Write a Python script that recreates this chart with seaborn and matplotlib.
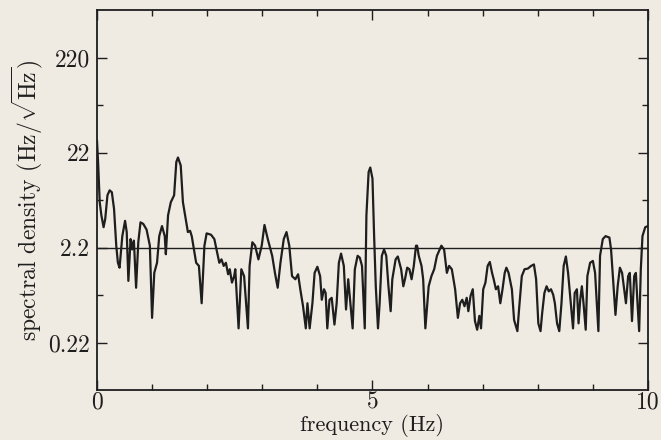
import numpy as np
import pandas as pd
import matplotlib
matplotlib.use("Agg")
import matplotlib.pyplot as plt
import seaborn as sns
from matplotlib.ticker import FixedLocator, FixedFormatter, NullFormatter

freq = [0.00, 0.02, 0.05, 0.08, 0.12, 0.15, 0.19, 0.23, 0.27, 0.31, 0.35, 0.38, 0.41, 0.46, 0.51, 0.54, 0.57,
        0.61, 0.64, 0.67, 0.71, 0.75, 0.79, 0.84, 0.90, 0.96, 1.00, 1.04, 1.09, 1.13, 1.18, 1.23, 1.25, 1.29,
        1.34, 1.40, 1.44, 1.47, 1.52, 1.56, 1.61, 1.65, 1.69, 1.72, 1.76, 1.80, 1.85, 1.90, 1.95, 1.99, 2.07,
        2.13, 2.18, 2.22, 2.26, 2.30, 2.34, 2.38, 2.41, 2.45, 2.49, 2.51, 2.57, 2.62, 2.67, 2.74, 2.77, 2.82,
        2.87, 2.93, 2.99, 3.04, 3.10, 3.18, 3.23, 3.28, 3.33, 3.39, 3.44, 3.49, 3.54, 3.60, 3.65, 3.69, 3.74,
        3.79, 3.82, 3.86, 3.91, 3.95, 4.00, 4.05, 4.08, 4.12, 4.15, 4.18, 4.22, 4.26, 4.31, 4.35, 4.39, 4.43,
        4.48, 4.52, 4.56, 4.60, 4.64, 4.68, 4.73, 4.77, 4.81, 4.86, 4.89, 4.93, 4.96, 5.00, 5.03, 5.06, 5.10,
        5.13, 5.17, 5.21, 5.25, 5.29, 5.33, 5.36, 5.42, 5.46, 5.52, 5.56, 5.59, 5.63, 5.67, 5.71, 5.75, 5.79,
        5.81, 5.84, 5.89, 5.92, 5.96, 6.02, 6.07, 6.12, 6.17, 6.25, 6.30, 6.35, 6.39, 6.44, 6.50, 6.55, 6.59,
        6.63, 6.67, 6.71, 6.74, 6.78, 6.82, 6.86, 6.90, 6.94, 6.97, 7.01, 7.05, 7.09, 7.13, 7.17, 7.20, 7.24,
        7.28, 7.32, 7.36, 7.40, 7.43, 7.47, 7.53, 7.57, 7.63, 7.66, 7.71, 7.76, 7.82, 7.88, 7.93, 7.97, 8.01,
        8.05, 8.08, 8.12, 8.16, 8.20, 8.24, 8.28, 8.31, 8.35, 8.39, 8.43, 8.47, 8.51, 8.55, 8.60, 8.64, 8.67,
        8.71, 8.74, 8.77, 8.80, 8.83, 8.87, 8.90, 8.95, 9.00, 9.04, 9.10, 9.13, 9.18, 9.23, 9.30, 9.33, 9.37,
        9.41, 9.45, 9.49, 9.53, 9.56, 9.60, 9.64, 9.67, 9.71, 9.75, 9.78, 9.81, 9.84, 9.87, 9.90, 9.95, 10.00]

density = [29.7, 17.5, 6.6, 4.8, 3.6, 4.4, 7.8, 8.8, 8.4, 5.6, 2.3, 1.52, 1.35, 2.9, 4.2, 3.2, 0.98,
           2.7, 2.1, 2.6, 0.83, 2.5, 4.05, 3.9, 3.4, 2.3, 0.40, 1.19, 1.52, 2.9, 3.7, 2.9, 1.87, 4.8,
           6.6, 7.8, 17.5, 19.5, 16.1, 6.6, 4.4, 3.2, 3.3, 2.9, 2.1, 1.52, 1.41, 0.57, 2.3, 3.1, 3.0,
           2.7, 1.95, 1.52, 1.65, 1.41, 1.52, 1.15, 1.30, 0.94, 1.10, 1.30, 0.31, 1.30, 1.10, 0.31, 1.41, 2.5,
           2.3, 1.65, 2.3, 3.8, 2.7, 1.8, 1.19, 0.83, 1.52, 2.7, 3.2, 2.3, 1.10, 1.02, 1.15, 0.80, 0.53,
           0.31, 0.57, 0.31, 0.57, 1.19, 1.38, 1.10, 0.62, 0.80, 0.73, 0.31, 0.62, 0.65, 0.34, 0.57, 1.52, 1.9,
           1.41, 0.49, 1.02, 0.57, 0.31, 1.30, 1.8, 1.72, 1.41, 0.31, 4.8, 13.7, 15.3, 11.7, 2.9, 0.86, 0.31,
           0.57, 1.8, 2.1, 1.8, 0.86, 0.47, 1.02, 1.65, 1.77, 1.30, 0.86, 1.02, 1.35, 1.30, 1.02, 1.41, 2.3,
           2.3, 1.8, 1.41, 1.02, 0.31, 0.86, 1.10, 1.30, 1.8, 2.3, 2.1, 1.19, 1.41, 1.30, 0.80, 0.40, 0.57,
           0.62, 0.53, 0.65, 0.47, 0.68, 0.80, 0.37, 0.30, 0.42, 0.31, 0.80, 0.94, 1.41, 1.55, 1.19, 1.02, 0.80,
           0.86, 0.57, 0.80, 1.19, 1.35, 1.19, 0.80, 0.38, 0.29, 0.49, 1.10, 1.30, 1.32, 1.41, 1.46, 1.02, 0.35,
           0.29, 0.45, 0.73, 0.86, 0.76, 0.80, 0.70, 0.57, 0.35, 0.29, 0.57, 1.41, 1.77, 1.19, 0.57, 0.31, 0.73,
           0.80, 0.35, 0.62, 0.86, 0.57, 0.30, 1.10, 1.52, 1.59, 1.19, 0.29, 1.8, 2.7, 2.9, 2.8, 2.1, 0.94,
           0.43, 0.86, 1.35, 1.19, 0.86, 0.57, 1.10, 1.19, 0.37, 1.10, 1.19, 0.57, 0.29, 1.30, 2.9, 3.6, 3.7]

ref_level = 2.2
y_major = [0.22, 2.2, 22, 220]
y_major_labels = ["0.22", "2.2", "22", "220"]
x_major = [0, 5, 10]
x_major_labels = ["0", "5", "10"]

sns.set_style("ticks")
bg = "#f0ebe2"
ink = "#1e1e1e"
plt.rcParams["font.family"] = ["cmr10", "DejaVu Serif"]
plt.rcParams["mathtext.fontset"] = "cm"
plt.rcParams["axes.unicode_minus"] = False

df = pd.DataFrame({"freq": freq, "density": density})

fig = plt.figure(figsize=(6.61, 4.40), dpi=100, facecolor=bg)
ax = fig.add_axes([0.1467, 0.1136, 0.8336, 0.8636])
ax.set_facecolor(bg)

sns.lineplot(data=df, x="freq", y="density", ax=ax, color=ink, linewidth=1.6, sort=False)
ax.axhline(ref_level, color=ink, linewidth=1.0)

ax.set_yscale("log")
ax.set_xlim(0, 10)
ax.set_ylim(0.22 / np.sqrt(10), 220 * np.sqrt(10))

ax.yaxis.set_major_locator(FixedLocator(y_major))
ax.yaxis.set_major_formatter(FixedFormatter(y_major_labels))
ax.yaxis.set_minor_locator(FixedLocator([v * np.sqrt(10) for v in y_major[:-1]]))
ax.yaxis.set_minor_formatter(NullFormatter())
ax.xaxis.set_major_locator(FixedLocator(x_major))
ax.xaxis.set_major_formatter(FixedFormatter(x_major_labels))
ax.xaxis.set_minor_locator(FixedLocator(list(range(1, 10))))

ax.tick_params(which="both", direction="in", top=True, right=True, color=ink, width=1.0)
ax.tick_params(which="major", length=7, labelsize=17, labelcolor=ink)
ax.tick_params(axis="y", which="major", pad=5)
ax.tick_params(axis="x", which="major", pad=1)
ax.tick_params(which="minor", length=4)
for s in ax.spines.values():
    s.set_color(ink)
    s.set_linewidth(1.3)

ax.set_xlabel("frequency (Hz)", fontsize=16, color=ink, labelpad=0)
ax.set_ylabel(r"spectral density (Hz/$\sqrt{\mathrm{Hz}}$)", fontsize=17, color=ink, labelpad=2)

fig.savefig("out.png", dpi=100, facecolor=bg)
